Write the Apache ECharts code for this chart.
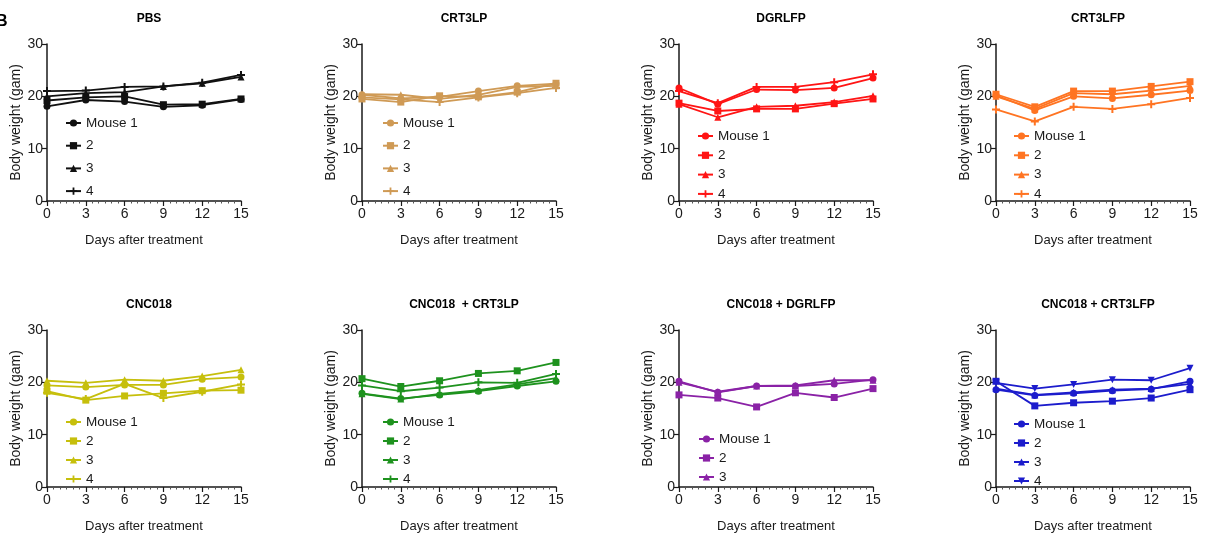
<!DOCTYPE html>
<html><head><meta charset="utf-8">
<script src="https://cdn.jsdelivr.net/npm/echarts@6/dist/echarts.min.js"></script>
<style>html,body{margin:0;padding:0;background:#fff}#c{width:1205px;height:537px}</style>
</head><body><div id="c"></div>
<script>
// ---------- data ----------
const days = [0, 3, 6, 9, 12, 15];
const xTicks = [0, 3, 6, 9, 12, 15];
const yTicks = [0, 10, 20, 30];
const mouseNames = ['Mouse 1', '2', '3', '4'];
const panelTitles = ['PBS', 'CRT3LP', 'DGRLFP', 'CRT3LFP',
  'CNC018', 'CNC018  + CRT3LP', 'CNC018 + DGRLFP', 'CNC018 + CRT3LFP'];
const panelColors = ['#111111', '#CF9A55', '#FF1414', '#FF7422',
  '#C6BF0C', '#1E921E', '#8A22A6', '#1C1CCC'];

// body weights (g) per mouse: [Mouse 1, 2, 3, 4]
const pbs = [
  [18.1, 19.3, 19.0, 18.0, 18.3, 19.4],
  [19.2, 19.8, 20.0, 18.4, 18.5, 19.5],
  [20.0, 20.6, 20.8, 21.9, 22.5, 23.7],
  [21.0, 21.1, 21.8, 21.9, 22.6, 24.1]
];
const crt3lp = [
  [20.3, 19.6, 19.9, 21.0, 22.0, 22.4],
  [19.5, 18.9, 20.1, 19.9, 20.8, 22.5],
  [20.4, 20.3, 19.5, 20.3, 21.8, 22.0],
  [19.8, 19.4, 18.9, 19.8, 20.6, 21.6]
];
const dgrlfp = [
  [21.6, 18.5, 21.3, 21.2, 21.6, 23.5],
  [18.7, 17.2, 17.6, 17.6, 18.6, 19.5],
  [18.5, 16.0, 18.0, 18.2, 18.9, 20.1],
  [21.0, 18.7, 21.8, 21.8, 22.7, 24.2]
];
const crt3lfp = [
  [20.2, 17.3, 20.0, 19.6, 20.3, 21.1],
  [20.4, 18.0, 21.0, 21.0, 21.9, 22.8],
  [20.0, 17.6, 20.6, 20.4, 21.1, 22.0],
  [17.5, 15.2, 18.0, 17.6, 18.5, 19.7]
];
const cnc018 = [
  [19.4, 19.1, 19.5, 19.5, 20.6, 21.0],
  [18.3, 16.6, 17.4, 17.9, 18.4, 18.5],
  [20.3, 19.9, 20.5, 20.3, 21.2, 22.4],
  [18.0, 16.8, 19.7, 17.0, 18.2, 19.6]
];
const cncCrt3lp = [
  [17.9, 16.9, 17.6, 18.3, 19.3, 20.2],
  [20.7, 19.2, 20.3, 21.7, 22.2, 23.8],
  [17.8, 16.8, 17.8, 18.5, 19.6, 20.8],
  [19.4, 18.3, 19.0, 20.0, 19.9, 21.6]
];
const cncDgrlfp = [
  [20.2, 18.1, 19.3, 19.3, 19.7, 20.5],
  [17.6, 17.0, 15.3, 18.0, 17.1, 18.8],
  [20.0, 18.2, 19.3, 19.4, 20.4, 20.4]
];
const cncCrt3lfp = [
  [18.6, 17.5, 17.9, 18.4, 18.7, 20.2],
  [20.2, 15.5, 16.1, 16.4, 17.0, 18.6],
  [18.8, 17.6, 18.1, 18.6, 18.8, 19.7],
  [19.9, 18.8, 19.6, 20.5, 20.4, 22.7]
];
const panelData = [pbs, crt3lp, dgrlfp, crt3lfp, cnc018, cncCrt3lp, cncDgrlfp, cncCrt3lfp];

// ---------- layout / style ----------
const FONT = '"Liberation Sans", Arial, sans-serif';
const AX = '#1a1a1a';
const gridLefts = [47, 362, 679, 996];
const rowTops = [44, 330];
const GW = 194, GH = 157;
const plusPath = 'path://M3,0h2v3h3v2h-3v3h-2v-3h-3v-2h3z';
const symbols = ['circle', 'rect', 'triangle', plusPath];
// legend placement per panel: [left, top, itemGap]
const legendPos = [
  [65, 116, 8.7], [382, 116, 8.7], [697, 129, 5.3], [1013, 129, 5.3],
  [65, 415, 5], [382, 415, 5], [698, 432, 5], [1013, 417, 5]
];

const grid = [], xAxis = [], yAxis = [], series = [], legend = [], title = [];
title.push({ text: 'B', left: -9, top: 9, textStyle: { fontFamily: FONT, fontSize: 16, fontWeight: 'bold', color: '#000' } });

panelData.forEach((mice, p) => {
  const row = Math.floor(p / 4), col = p % 4;
  const left = gridLefts[col], top = rowTops[row];
  grid.push({ left: left, top: top, width: GW, height: GH, containLabel: false });
  title.push({
    text: panelTitles[p], left: left + GW / 2, top: top - 36, textAlign: 'center',
    textStyle: { fontFamily: FONT, fontSize: 12, fontWeight: 'bold', color: '#000' }
  });
  xAxis.push({
    gridIndex: p, type: 'value', min: 0, max: 15, interval: 3,
    name: 'Days after treatment', nameLocation: 'middle', nameGap: 33,
    nameTextStyle: { fontFamily: FONT, fontSize: 13, color: AX },
    axisLine: { show: true, onZero: false, lineStyle: { color: AX, width: 1.5 } },
    axisTick: { show: true, length: 5, lineStyle: { color: AX, width: 1.2 } },
    minorTick: { show: true, splitNumber: 6, length: 2.5, lineStyle: { color: '#555', width: 1 } },
    axisLabel: { fontFamily: FONT, fontSize: 14, color: AX, margin: 6 },
    splitLine: { show: false }
  });
  yAxis.push({
    gridIndex: p, type: 'value', min: 0, max: 30, interval: 10,
    name: 'Body weight (gam)', nameLocation: 'middle', nameGap: 24,
    nameTextStyle: { fontFamily: FONT, fontSize: 14, color: AX },
    axisLine: { show: true, onZero: false, lineStyle: { color: AX, width: 1.5 } },
    axisTick: { show: true, length: 5, lineStyle: { color: AX, width: 1.2 } },
    axisLabel: { fontFamily: FONT, fontSize: 14, color: AX, margin: 4 },
    splitLine: { show: false }
  });
  const names = [];
  mice.forEach((vals, m) => {
    const nm = p + '|' + mouseNames[m];
    names.push(nm);
    const isInv = (p === 7 && m === 3);
    series.push({
      type: 'line', name: nm, xAxisIndex: p, yAxisIndex: p,
      data: days.map((d, i) => [d, vals[i]]),
      symbol: isInv ? 'triangle' : symbols[m],
      symbolRotate: isInv ? 180 : 0,
      symbolSize: m === 3 && !isInv ? 8 : 7,
      showSymbol: true,
      lineStyle: { color: panelColors[p], width: 1.8 },
      itemStyle: { color: panelColors[p], borderWidth: 0 },
      emphasis: { disabled: true },
      z: 3
    });
  });
  const lp = legendPos[p];
  legend.push({
    data: names, orient: 'vertical', left: lp[0], top: lp[1], itemGap: lp[2],
    itemWidth: 15, itemHeight: 9, padding: 0, selectedMode: false,
    formatter: (n) => n.split('|')[1],
    textStyle: { fontFamily: FONT, fontSize: 13.5, color: '#1a1a1a', lineHeight: 14 }
  });
});

const chart = echarts.init(document.getElementById('c'), null, { renderer: 'canvas' });
chart.setOption({
  animation: false, backgroundColor: '#fff',
  title, grid, xAxis, yAxis, series, legend
});
</script></body></html>
